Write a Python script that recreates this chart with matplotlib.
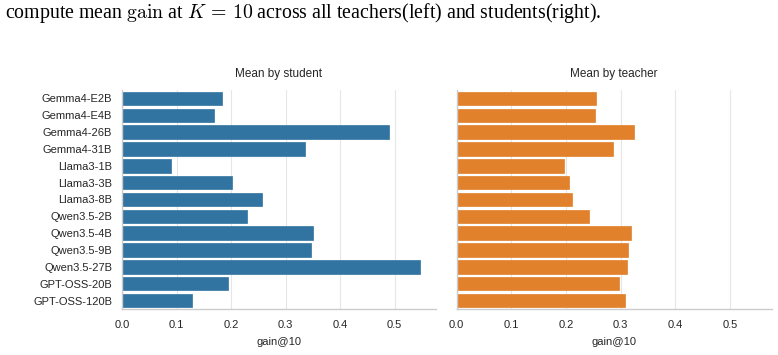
import numpy as np
import matplotlib.pyplot as plt
import seaborn as sns

models = ["Gemma4-E2B", "Gemma4-E4B", "Gemma4-26B", "Gemma4-31B",
          "Llama3-1B", "Llama3-3B", "Llama3-8B",
          "Qwen3.5-2B", "Qwen3.5-4B", "Qwen3.5-9B", "Qwen3.5-27B",
          "GPT-OSS-20B", "GPT-OSS-120B"]
by_student = [0.184, 0.168, 0.490, 0.335, 0.089, 0.202, 0.256,
              0.230, 0.350, 0.346, 0.546, 0.194, 0.128]
by_teacher = [0.255, 0.252, 0.325, 0.285, 0.196, 0.205, 0.211,
              0.242, 0.318, 0.313, 0.311, 0.297, 0.308]

sns.set_style("whitegrid")
plt.rcParams['font.family'] = ['Liberation Sans', 'DejaVu Sans']
plt.rcParams['mathtext.fontset'] = 'cm'

fig = plt.figure(figsize=(7.78, 3.55), dpi=100)
ax1 = fig.add_axes([0.1568, 0.1296, 0.4036, 0.6169])
ax2 = fig.add_axes([0.587, 0.1296, 0.405, 0.6169], sharex=ax1)

y = np.arange(len(models))
panels = [(ax1, by_student, "#3274a1", "Mean by student"),
          (ax2, by_teacher, "#e1812c", "Mean by teacher")]
for ax, vals, col, title in panels:
    ax.barh(y, vals, height=0.8, color=col, edgecolor=col, linewidth=0.5, zorder=2)
    ax.set_ylim(len(models) - 0.5, -0.5)
    ax.set_xlim(0, 0.576)
    ax.set_xticks([0, 0.1, 0.2, 0.3, 0.4, 0.5])
    ax.set_xticklabels(["0.0", "0.1", "0.2", "0.3", "0.4", "0.5"])
    ax.grid(axis='y', visible=False)
    ax.grid(axis='x', color='#e6e6e6', linewidth=0.8, zorder=0)
    ax.set_title(title, fontsize=8.5, color='#262626', pad=9)
    ax.set_xlabel("gain@10", fontsize=8, color='#262626', labelpad=5)
    ax.tick_params(axis='both', labelsize=8, colors='#262626', length=0)
    ax.tick_params(axis='x', pad=8)
    ax.tick_params(axis='y', pad=7)
    for s in ['top', 'right']:
        ax.spines[s].set_visible(False)
    for s in ['left', 'bottom']:
        ax.spines[s].set_color('#cccccc')
        ax.spines[s].set_linewidth(1.0)

ax1.set_yticks(y)
ax1.set_yticklabels(models)
ax2.tick_params(axis='y', labelleft=False)

fig.text(0.006, 0.948,
         r"compute mean $\mathrm{gain}$ at $K\,=\,10$ across all teachers(left) and students(right).",
         family='Liberation Serif', fontsize=14.3, color='black', va='baseline')

fig.savefig("out.png", dpi=100)
